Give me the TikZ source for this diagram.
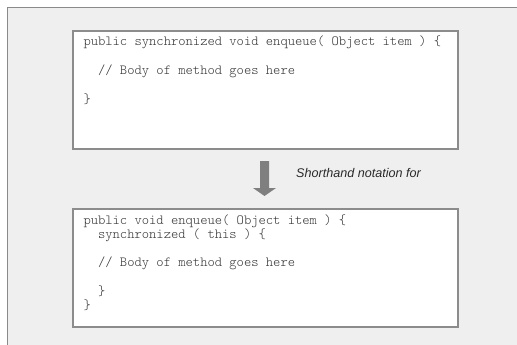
\documentclass[tikz,border=0pt]{standalone}
\usepackage{fontspec}
\setmonofont{Latin Modern Mono Light}
\setsansfont{Liberation Sans}
\definecolor{bgc}{HTML}{EFEFEF}
\definecolor{framec}{HTML}{8A8A8A}
\definecolor{boxc}{HTML}{8C8C8C}
\definecolor{codec}{HTML}{333333}
\definecolor{arrowc}{HTML}{7F7F7F}
\definecolor{notec}{HTML}{2A2A2A}
\begin{document}
\begin{tikzpicture}[x=1pt,y=-1pt,
  codebox/.style={draw=boxc,line width=1.6pt,fill=white,minimum width=385pt,minimum height=118pt,inner sep=0pt},
  codeline/.style={anchor=base west,inner sep=0pt,text=codec,font=\fontsize{13.9pt}{14.3pt}\ttfamily},
  note/.style={anchor=base west,inner sep=0pt,text=notec,font=\fontsize{12.6pt}{14pt}\sffamily\itshape}]
\useasboundingbox (0,0) rectangle (517,345);
\fill[bgc] (7,8) rectangle (518,346);
\draw[framec,line width=1pt] (7,346) -- (7,8) -- (518,8);
% boxes
\node[codebox] (topbox) at (265.5,90) {};
\node[codebox] (botbox) at (265.5,268) {};
% top code
\node[codeline] (t1) at (83.3,46) {public synchronized void enqueue( Object item ) \{};
\node[codeline] (t2) at (83.3,74.6) {\ \ // Body of method goes here};
\node[codeline] (t3) at (83.3,103.2) {\}};
% bottom code
\node[codeline] (b1) at (83.3,224) {public void enqueue( Object item ) \{};
\node[codeline] (b2) at (83.3,238.3) {\ \ synchronized ( this ) \{};
\node[codeline] (b3) at (83.3,266.9) {\ \ // Body of method goes here};
\node[codeline] (b4) at (83.3,295.5) {\ \ \}};
\node[codeline] (b5) at (83.3,309.8) {\}};
% arrow
\coordinate (as) at (264.5,161);
\coordinate (at) at (264.5,196);
\fill[arrowc] (260,161) -- (269,161) -- (269,188) -- (276,188) -- (at) -- (253,188) -- (260,188) -- cycle;
\node[note] (lab) at (296,177.7) {Shorthand notation for};
\end{tikzpicture}
\end{document}
